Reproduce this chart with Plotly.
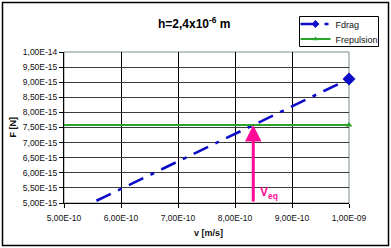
import plotly.graph_objects as go

# ---- data ----
v = [5.0e-10, 6.0e-10, 7.0e-10, 8.0e-10, 9.0e-10, 1.0e-9]
f_drag = [4.555e-15, 5.466e-15, 6.377e-15, 7.288e-15, 8.199e-15, 9.11e-15]
f_rep = [7.58e-15, 7.58e-15, 7.58e-15, 7.58e-15, 7.58e-15, 7.58e-15]

x_ticks = [5.0e-10, 6.0e-10, 7.0e-10, 8.0e-10, 9.0e-10, 1.0e-9]
x_tick_labels = ["5,00E-10", "6,00E-10", "7,00E-10", "8,00E-10", "9,00E-10", "1,00E-09"]
y_ticks = [5.0e-15, 5.5e-15, 6.0e-15, 6.5e-15, 7.0e-15, 7.5e-15, 8.0e-15, 8.5e-15, 9.0e-15, 9.5e-15, 1.0e-14]
y_tick_labels = ["5,00E-15", "5,50E-15", "6,00E-15", "6,50E-15", "7,00E-15", "7,50E-15",
                 "8,00E-15", "8,50E-15", "9,00E-15", "9,50E-15", "1,00E-14"]

title_text = "h=2,4x10<sup>-6</sup> m"
x_title = "v [m/s]"
y_title = "F [N]"
series_names = ["Fdrag", "Frepulsion"]

# equilibrium velocity where drag equals repulsion (linear drag through origin)
v_eq = f_rep[-1] * v[-1] / f_drag[-1]

FONT = "Liberation Sans, Arial, sans-serif"
BLUE = "#0c0cc8"
GREEN = "#2aa52a"
PINK = "#ff0a96"
TRANSP = "rgba(0,0,0,0)"

# pixel layout helpers
W, H = 391, 248
L, R, T, B = 64, 42, 52, 45
PW, PH = W - L - R, H - T - B


def px(xp):
    return (xp - L) / PW


def py(yp):
    return (H - B - yp) / PH


fig = go.Figure()

# Fdrag: dash-dot line (legend carries the diamond marker)
fig.add_trace(go.Scatter(
    x=v, y=f_drag, name=series_names[0], mode="lines+markers", legend="legend",
    line=dict(color=BLUE, width=2.6, dash="16px,8px,4px,8px"),
    marker=dict(symbol="diamond", size=6,
                color=[BLUE] + [TRANSP] * (len(v) - 1),
                line=dict(width=0)),
    cliponaxis=True,
))
# Frepulsion: solid green line (legend carries the triangle marker)
v_rev = v[::-1]
f_rep_rev = f_rep[::-1]
fig.add_trace(go.Scatter(
    x=v_rev, y=f_rep_rev, name=series_names[1], mode="lines+markers", legend="legend2",
    line=dict(color=GREEN, width=2),
    marker=dict(symbol="triangle-up", size=5,
                color=[GREEN] + [TRANSP] * (len(v) - 1),
                line=dict(width=0)),
    cliponaxis=True,
))
# end markers drawn unclipped
fig.add_trace(go.Scatter(
    x=[v[-1]], y=[f_drag[-1]], mode="markers", showlegend=False,
    marker=dict(symbol="diamond", size=10, color=BLUE, line=dict(width=0)),
    cliponaxis=False,
))
fig.add_trace(go.Scatter(
    x=[v[-1]], y=[f_rep[-1]], mode="markers", showlegend=False,
    marker=dict(symbol="triangle-up", size=6, color=GREEN, line=dict(width=0)),
    cliponaxis=False,
))

annotations = [
    # pink arrow from axis up to the repulsion line
    dict(x=v_eq, y=f_rep[-1], ax=v_eq, ay=y_ticks[0], xref="x", yref="y",
         axref="x", ayref="y", showarrow=True, arrowhead=2, arrowsize=1.1,
         arrowwidth=3, arrowcolor=PINK, text=""),
    dict(x=v_eq, y=y_ticks[0], xref="x", yref="y", text="<b>V<sub>eq</sub></b>",
         showarrow=False, xanchor="left", yanchor="bottom", xshift=5, yshift=0,
         font=dict(family=FONT, size=12, color=PINK)),
    dict(x=px(194.5), y=py(23), xref="paper", yref="paper", text="<b>" + title_text + "</b>",
         showarrow=False, xanchor="center", yanchor="middle",
         font=dict(family=FONT, size=12, color="#000")),
    dict(x=px(208), y=py(233), xref="paper", yref="paper", text="<b>" + x_title + "</b>",
         showarrow=False, xanchor="center", yanchor="middle",
         font=dict(family=FONT, size=9, color="#111")),
    dict(x=px(12), y=py(127.5), xref="paper", yref="paper", text="<b>" + y_title + "</b>",
         showarrow=False, xanchor="center", yanchor="middle", textangle=-90,
         font=dict(family=FONT, size=9, color="#111")),
]

shapes = [
    # plot area border (gray)
    dict(type="rect", xref="paper", yref="paper", x0=0, x1=1, y0=0, y1=1,
         line=dict(color="#7f8c8c", width=1), layer="between"),
    # legend frame
    dict(type="rect", xref="paper", yref="paper",
         x0=px(299.5), x1=px(378.5), y0=py(46.5), y1=py(16.5),
         line=dict(color="#000", width=1), fillcolor="white", layer="above"),
    # outer chart border
    dict(type="rect", xref="paper", yref="paper",
         x0=px(2.5), x1=px(388.5), y0=py(245.5), y1=py(2.5),
         line=dict(color="#000", width=1.5), layer="above"),
]

legend_common = dict(xanchor="left", yanchor="top", bgcolor="rgba(0,0,0,0)", borderwidth=0,
                     font=dict(family=FONT, size=9, color="#111"), itemwidth=30)

fig.update_layout(
    width=W, height=H,
    margin=dict(l=L, r=R, t=T, b=B, pad=0, autoexpand=False),
    paper_bgcolor="white", plot_bgcolor="white",
    font=dict(family=FONT, size=8.5, color="#111"),
    showlegend=True,
    legend=dict(x=px(295.5), y=py(24 - 14.5), **legend_common),
    legend2=dict(x=px(295.5), y=py(39 - 14.5), **legend_common),
    annotations=annotations,
    shapes=shapes,
)

fig.update_xaxes(
    range=[x_ticks[0], x_ticks[-1]], tickmode="array", tickvals=x_ticks, ticktext=x_tick_labels,
    showgrid=True, gridcolor="#000", gridwidth=1,
    showline=True, linecolor="#000", linewidth=1,
    ticks="outside", ticklen=4, tickcolor="#000", zeroline=False,
    ticklabelstandoff=3,
    tickfont=dict(family=FONT, size=8.5, color="#111"),
)
fig.update_yaxes(
    range=[y_ticks[0], y_ticks[-1]], tickmode="array", tickvals=y_ticks, ticktext=y_tick_labels,
    showgrid=True, gridcolor="#3a3a3a", gridwidth=1,
    showline=True, linecolor="#000", linewidth=1,
    ticks="outside", ticklen=4, tickcolor="#000", zeroline=False,
    tickfont=dict(family=FONT, size=8.5, color="#111"),
)

fig.write_html(
    "out.html",
    config={"displayModeBar": False},
    post_script="document.body.style.margin='0';document.body.style.padding='0';",
)
